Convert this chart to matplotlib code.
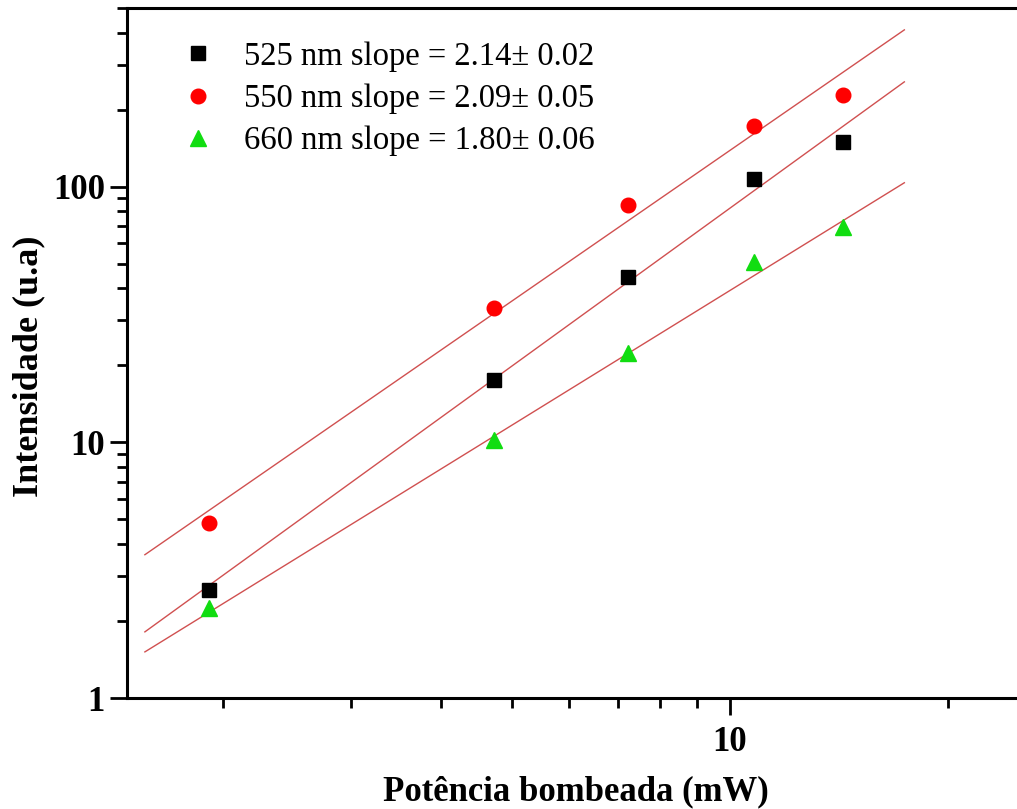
import numpy as np
import matplotlib.pyplot as plt
from matplotlib.ticker import LogLocator, NullFormatter, FixedLocator, FixedFormatter

# potencia de bombeio (mW)
potencia = np.array([1.91, 4.73, 7.23, 10.8, 14.3])

# intensidades (u.a)
int_525 = np.array([2.65, 17.6, 44.4, 107.5, 150])
int_550 = np.array([4.84, 33.6, 85.1, 173, 229])
int_660 = np.array([2.25, 10.2, 22.4, 50.9, 69.7])

rotulos = ['525 nm slope = 2.14\u00b1 0.02',
           '550 nm slope = 2.09\u00b1 0.05',
           '660 nm slope = 1.80\u00b1 0.06']

# ajustes log10(I) = a + b*log10(P), como aparecem no grafico
ajuste_b = [2.054, 1.96, 1.752]
ajuste_a = [-0.138, 0.182, -0.158]
x_ajuste = np.array([1.56, 17.4])

plt.rcParams['font.family'] = ['Liberation Serif', 'DejaVu Serif']

fig = plt.figure(figsize=(10.17, 8.09), dpi=100)
ax = fig.add_axes([0.1249, 0.1372, 0.933, 0.8529])

series = [int_525, int_550, int_660]
estilos = [dict(marker='s', color='black', ms=10),
           dict(marker='o', color='#ff0000', ms=10.5),
           dict(marker='^', color='#11dd11', ms=11)]

for dados, est, rot in zip(series, estilos, rotulos):
    ax.plot(potencia, dados, linestyle='none', marker=est['marker'],
            color=est['color'], markersize=est['ms'], label=rot, zorder=3)

for a, b in zip(ajuste_a, ajuste_b):
    y_aj = 10 ** (a + b * np.log10(x_ajuste))
    ax.plot(x_ajuste, y_aj, color='#d05050', lw=1.0, zorder=2)

ax.set_xscale('log')
ax.set_yscale('log')
ax.set_xlim(1.474, 30)
ax.set_ylim(1, 500)

# ticks
ax.xaxis.set_major_locator(FixedLocator([10]))
ax.xaxis.set_major_formatter(FixedFormatter(['10']))
ax.xaxis.set_minor_locator(LogLocator(base=10, subs=np.arange(2, 10)))
ax.xaxis.set_minor_formatter(NullFormatter())
ax.yaxis.set_major_locator(FixedLocator([1, 10, 100]))
ax.yaxis.set_major_formatter(FixedFormatter(['1', '10', '100']))
ax.yaxis.set_minor_locator(LogLocator(base=10, subs=np.arange(2, 10)))
ax.yaxis.set_minor_formatter(NullFormatter())

ax.tick_params(which='major', direction='out', length=12, width=2,
               labelsize=25)
ax.tick_params(axis='y', which='major', pad=4)
ax.tick_params(axis='x', which='major', pad=8)
ax.tick_params(which='minor', direction='out', length=7, width=2)
ax.tick_params(top=False, right=False, which='both')
for lab in ax.get_xticklabels() + ax.get_yticklabels():
    lab.set_fontweight('bold')

for lado in ['left', 'bottom', 'top', 'right']:
    ax.spines[lado].set_linewidth(2.2)

ax.set_xlabel('Potência bombeada (mW)', fontsize=25, fontweight='bold')
ax.set_ylabel('Intensidade (u.a)', fontsize=26, fontweight='bold')
ax.xaxis.set_label_coords(0.473, -0.112)
ax.yaxis.set_label_coords(-0.086, 0.481)

ax.legend(loc='upper left', bbox_to_anchor=(0.02, 0.98), frameon=False,
          fontsize=23.5, handletextpad=0.4, labelspacing=0.36, borderaxespad=0.2)

fig.savefig('out.png', dpi=100)
